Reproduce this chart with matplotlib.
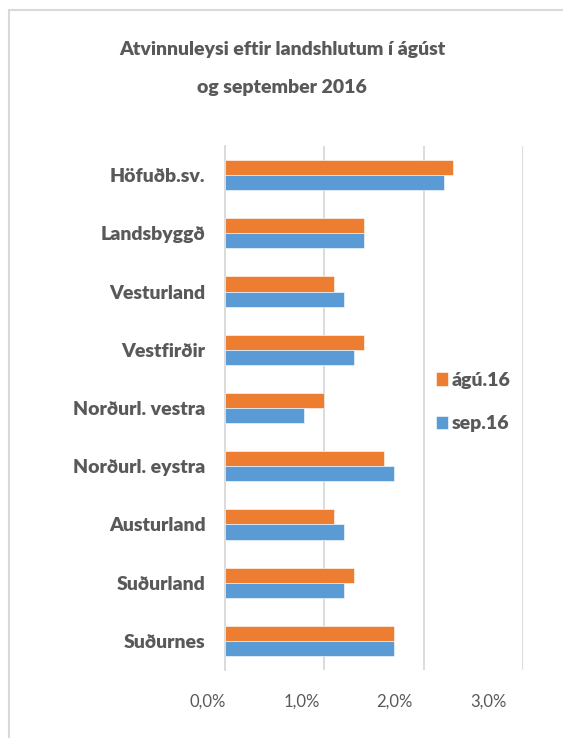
import matplotlib
matplotlib.use('Agg')
import matplotlib.pyplot as plt
import matplotlib.transforms as mtransforms
import numpy as np
from matplotlib.patches import Rectangle
from matplotlib.ticker import FuncFormatter

regions = ['Höfuðb.sv.', 'Landsbyggð', 'Vesturland', 'Vestfirðir', 'Norðurl. vestra',
           'Norðurl. eystra', 'Austurland', 'Suðurland', 'Suðurnes']
agu16 = [2.3, 1.4, 1.1, 1.4, 1.0, 1.6, 1.1, 1.3, 1.7]
sep16 = [2.2, 1.4, 1.2, 1.3, 0.8, 1.7, 1.2, 1.2, 1.7]
series_names = ['ágú.16', 'sep.16']
xticks = [0, 1, 2, 3]

ORANGE = '#ED7D31'
BLUE = '#5B9BD5'
TEXT = '#595959'
GRID = '#D9D9D9'

plt.rcParams['font.family'] = ['Lato', 'DejaVu Sans']

fig = plt.figure(figsize=(5.63, 7.38), dpi=100)
fig.patches.append(Rectangle((9 / 563, -0.01), 1.0, 1 - 10 / 738 + 0.01, transform=fig.transFigure,
                             facecolor='white', edgecolor=GRID, linewidth=1.5, zorder=-1))

ax = fig.add_axes([225 / 563, 1 - 670 / 738, (523 - 225) / 563, (670 - 146) / 738])

y = np.arange(len(regions))
h = 0.26
ax.barh(y - h / 2, agu16, height=h, color=ORANGE, edgecolor='white', linewidth=0.4,
        label=series_names[0], zorder=3)
ax.barh(y + h / 2, sep16, height=h, color=BLUE, edgecolor='white', linewidth=0.4,
        label=series_names[1], zorder=3)

ax.set_ylim(len(regions) - 0.5, -0.5)
ax.set_xlim(0, 3)
ax.set_xticks(xticks)
ax.xaxis.set_major_formatter(FuncFormatter(lambda v, p: f'{v:.1f}%'.replace('.', ',')))
ax.set_yticks(y)
ax.set_yticklabels(regions, fontweight='heavy', fontsize=14)
ax.grid(axis='x', color=GRID, linewidth=1.3, zorder=0)
for s in ['top', 'right', 'bottom']:
    ax.spines[s].set_visible(False)
ax.spines['left'].set_color(GRID)
ax.spines['left'].set_linewidth(1.3)
ax.tick_params(axis='both', length=0, colors=TEXT, labelsize=12)
ax.tick_params(axis='y', pad=14, labelsize=14)
ax.tick_params(axis='x', pad=17)

# the x tick labels in the original sit a little left of their gridlines, more so further right
for i, lbl in enumerate(ax.get_xticklabels()):
    shift = mtransforms.ScaledTranslation(-(17 + 6 * i) / 100, 0, fig.dpi_scale_trans)
    lbl.set_transform(lbl.get_transform() + shift)

fig.text(282 / 563, 1 - 50 / 738, 'Atvinnuleysi eftir landshlutum í ágúst', ha='center', va='center',
         fontsize=14, fontweight='heavy', color=TEXT)
fig.text(282 / 563, 1 - 88 / 738, 'og september 2016', ha='center', va='center',
         fontsize=14, fontweight='heavy', color=TEXT)

ax.legend(loc='upper left', bbox_to_anchor=(436 / 563, 1 - 372 / 738), bbox_transform=fig.transFigure,
          frameon=False, prop={'weight': 'heavy', 'size': 14}, labelcolor=TEXT,
          handlelength=0.6, handleheight=0.7, handletextpad=0.2, labelspacing=1.35,
          borderpad=0, borderaxespad=0)

fig.savefig('out.png', dpi=100)
